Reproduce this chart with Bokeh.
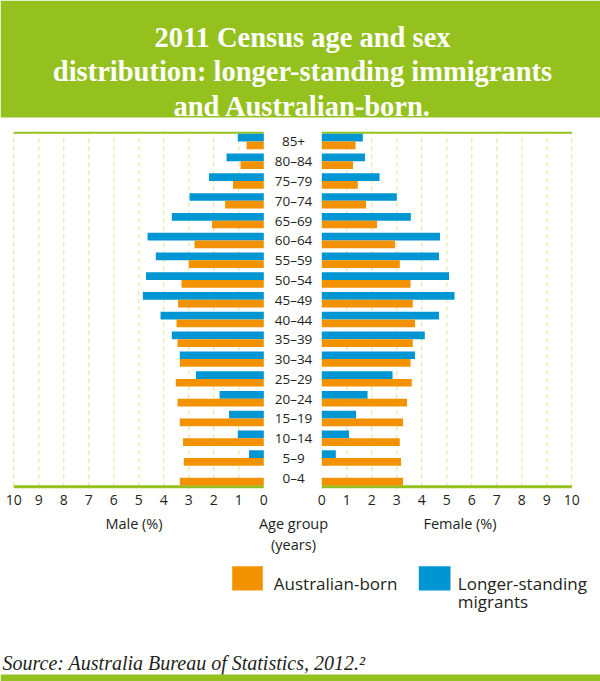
import numpy as np
from bokeh.plotting import figure
from bokeh.models import Range1d
from bokeh.core.properties import value
from bokeh.embed import file_html
from bokeh.resources import INLINE

# ---------------- data (bottom to top) ----------------
age_groups = ["0–4", "5–9", "10–14", "15–19", "20–24", "25–29", "30–34", "35–39",
              "40–44", "45–49", "50–54", "55–59", "60–64", "65–69", "70–74",
              "75–79", "80–84", "85+"]
male_aus = [3.36, 3.20, 3.23, 3.36, 3.45, 3.52, 3.36, 3.45, 3.49, 3.43, 3.29, 3.00,
            2.77, 2.07, 1.55, 1.23, 0.93, 0.69]
male_mig = [0.0, 0.59, 1.04, 1.39, 1.77, 2.71, 3.36, 3.68, 4.13, 4.84, 4.71, 4.32,
            4.65, 3.68, 2.97, 2.19, 1.49, 1.04]
female_aus = [3.25, 3.17, 3.12, 3.25, 3.41, 3.60, 3.55, 3.64, 3.73, 3.64, 3.55, 3.12,
              2.93, 2.21, 1.77, 1.44, 1.25, 1.35]
female_mig = [0.0, 0.56, 1.09, 1.37, 1.83, 2.83, 3.73, 4.12, 4.69, 5.31, 5.09, 4.69,
              4.73, 3.56, 3.00, 2.31, 1.73, 1.64]
tick_values = [0, 1, 2, 3, 4, 5, 6, 7, 8, 9, 10]
title_lines = ["2011 Census age and sex",
               "distribution: longer-standing immigrants",
               "and Australian-born."]
legend_labels = ["Australian-born", "Longer-standing", "migrants"]
source_text = "Source: Australia Bureau of Statistics, 2012.²"

# ---------------- style ----------------
GREEN = "#95c11f"
ORANGE = "#f39200"
BLUE = "#0095d3"
GRID = "#d2e585"
TEXT = "#231f20"
SANS = value("Open Sans")
SERIF = value("Liberation Serif")

W, H = 600, 681
# main range in picture coordinates (y downward)
p = figure(width=W, height=H, output_backend="svg", toolbar_location=None,
           x_range=Range1d(0, W), y_range=Range1d(H, 0),
           x_axis_location=None, y_axis_location=None, min_border=0,
           outline_line_color=None, background_fill_color="white",
           border_fill_color="white")
p.xgrid.visible = False
p.ygrid.visible = False

PX_PER_UNIT = 25.0
male_zero, female_zero = 263.3, 321.3
p.extra_x_ranges = {
    "male": Range1d(male_zero / PX_PER_UNIT, (male_zero - W) / PX_PER_UNIT),
    "female": Range1d(-female_zero / PX_PER_UNIT, (W - female_zero) / PX_PER_UNIT),
}
ROW = 19.78
base_y = 485.0
p.extra_y_ranges = {"age": Range1d(-(H - base_y) / ROW, base_y / ROW)}

n = len(age_groups)
idx = np.arange(n)
bar_h = 0.39
y_aus = idx + bar_h / 2
y_mig = idx + bar_h * 1.5
y_lab = idx + bar_h

# title band
p.quad(left=0, right=W, top=0, bottom=117, fill_color=GREEN, line_color=None)
p.text(x=[302] * 3, y=[37, 71, 106], text=title_lines, text_font=SERIF,
       text_font_style="bold", text_font_size="28.5px", text_color="white",
       text_align="center", text_baseline="alphabetic")

top_y = n - 1 + 2 * bar_h + 0.05
bot_y = -0.06
grid_ticks = tick_values[1:]
for side in ("male", "female"):
    p.segment(x0=grid_ticks, x1=grid_ticks, y0=[bot_y] * len(grid_ticks),
              y1=[top_y] * len(grid_ticks), line_color=GRID, line_width=1,
              line_dash="4 4", x_range_name=side, y_range_name="age")
    p.segment(x0=[0], x1=[10], y0=[top_y], y1=[top_y], line_color=GREEN,
              line_width=2, x_range_name=side, y_range_name="age")
    p.segment(x0=[0], x1=[10], y0=[bot_y], y1=[bot_y], line_color=GREEN,
              line_width=3, x_range_name=side, y_range_name="age")

for side, aus, mig in (("male", male_aus, male_mig), ("female", female_aus, female_mig)):
    p.hbar(y=y_mig, left=0, right=mig, height=bar_h, fill_color=BLUE, line_color=None,
           x_range_name=side, y_range_name="age")
    p.hbar(y=y_aus, left=0, right=aus, height=bar_h, fill_color=ORANGE, line_color=None,
           x_range_name=side, y_range_name="age")
    p.text(x=tick_values, y=[499] * len(tick_values), text=[str(t) for t in tick_values],
           text_font=SANS, text_font_size="14px", text_color=TEXT,
           text_align="center", text_baseline="middle", x_range_name=side)

# age labels
p.text(x=[293] * n, y=y_lab, text=age_groups, text_font=SANS, text_font_size="13.5px",
       text_color=TEXT, text_align="center", text_baseline="middle", y_range_name="age")

# axis titles
p.text(x=[133.5, 459.5, 293, 293], y=[523, 523, 523, 544],
       text=["Male (%)", "Female (%)", "Age group", "(years)"], text_font=SANS,
       text_font_size="14.5px", text_color=TEXT, text_align="center",
       text_baseline="middle")

# legend
p.quad(left=[231.7, 418.3], right=[262.3, 450], top=[565.7, 565.7], bottom=[590, 590],
       fill_color=[ORANGE, BLUE], line_color=None)
p.text(x=[273.3, 457.3, 457.3], y=[583.3, 583.3, 601], text=legend_labels,
       text_font=SANS, text_font_size="17px", text_color=TEXT,
       text_align="left", text_baseline="alphabetic")

# source
p.text(x=[2], y=[662], text=[source_text], text_font=SERIF, text_font_style="italic",
       text_font_size="20px", text_color=TEXT, text_align="left",
       text_baseline="alphabetic")
p.quad(left=0, right=W, top=674, bottom=H, fill_color=GREEN, line_color=None)

open("out.html", "w").write(file_html(p, INLINE))
